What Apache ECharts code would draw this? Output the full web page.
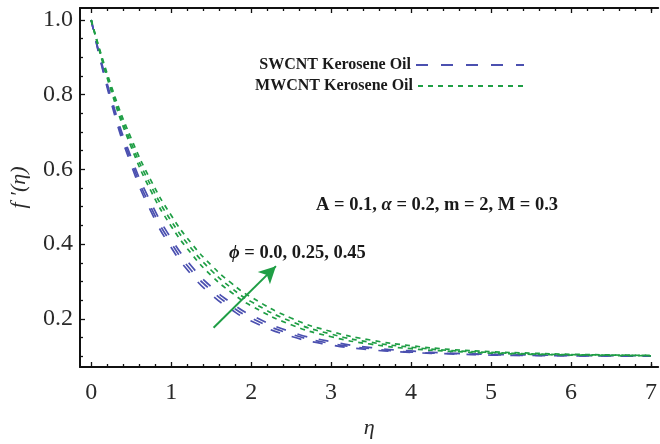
<!DOCTYPE html>
<html>
<head>
<meta charset="utf-8">
<script src="https://cdn.jsdelivr.net/npm/echarts@6/dist/echarts.min.js"></script>
<style>
  html, body { margin: 0; padding: 0; background: #ffffff; }
  #chart { width: 660px; height: 444px; }
</style>
</head>
<body>
<div id="chart"></div>
<script>
// Similarity variable eta and velocity profiles f'(eta) for phi = 0.0, 0.25, 0.45
const eta      = [0, 0.25, 0.5, 0.75, 1, 1.25, 1.5, 1.75, 2, 2.5, 3, 3.5, 4, 4.5, 5, 5.5, 6, 7];
const swcnt00  = [1.0, 0.779, 0.612, 0.486, 0.391, 0.319, 0.265, 0.225, 0.194, 0.153, 0.130, 0.117, 0.110, 0.106, 0.103, 0.102, 0.101, 0.100];
const swcnt25  = [1.0, 0.785, 0.622, 0.497, 0.403, 0.330, 0.276, 0.234, 0.202, 0.159, 0.134, 0.120, 0.111, 0.107, 0.104, 0.102, 0.101, 0.100];
const swcnt45  = [1.0, 0.792, 0.632, 0.510, 0.415, 0.342, 0.286, 0.243, 0.210, 0.165, 0.139, 0.123, 0.114, 0.108, 0.105, 0.103, 0.102, 0.101];
const mwcnt00  = [1.0, 0.810, 0.660, 0.541, 0.448, 0.375, 0.316, 0.271, 0.235, 0.184, 0.152, 0.132, 0.120, 0.113, 0.108, 0.105, 0.103, 0.101];
const mwcnt25  = [1.0, 0.817, 0.671, 0.555, 0.462, 0.389, 0.330, 0.283, 0.246, 0.193, 0.159, 0.137, 0.124, 0.115, 0.110, 0.106, 0.104, 0.102];
const mwcnt45  = [1.0, 0.824, 0.683, 0.569, 0.477, 0.403, 0.344, 0.296, 0.258, 0.202, 0.166, 0.143, 0.128, 0.118, 0.112, 0.108, 0.105, 0.102];

// Axis ticks
const xMajor = [0, 1, 2, 3, 4, 5, 6, 7];
const xMinor = [0.2, 0.4, 0.6, 0.8, 1.2, 1.4, 1.6, 1.8, 2.2, 2.4, 2.6, 2.8, 3.2, 3.4, 3.6, 3.8,
                4.2, 4.4, 4.6, 4.8, 5.2, 5.4, 5.6, 5.8, 6.2, 6.4, 6.6, 6.8, 7.0];
const yMajor = [0.2, 0.4, 0.6, 0.8, 1.0];
const yMinor = [0.1, 0.15, 0.25, 0.3, 0.35, 0.45, 0.5, 0.55, 0.65, 0.7, 0.75, 0.85, 0.9, 0.95];

// Arrow showing increasing phi (data coordinates)
const arrowFrom = [1.53, 0.176];
const arrowTo   = [2.31, 0.341];

const SW_NAME = 'SWCNT Kerosene Oil';
const MW_NAME = 'MWCNT Kerosene Oil';
const BLUE = '#4b50b0';
const GREEN = '#1f9e45';
const SW_DASH = [10, 12];
const MW_DASH = [5, 5];
const SERIF = '"Liberation Serif", "Times New Roman", serif';
const X_MIN = -0.14, X_MAX = 7.09, Y_MIN = 0.071, Y_MAX = 1.032;

const pairs = ys => eta.map((x, i) => [x, ys[i]]);

function lineSeries(name, ys, color, dash, width) {
  return {
    type: 'line', name, data: pairs(ys), smooth: true, showSymbol: false, symbol: 'none',
    xAxisIndex: 0, yAxisIndex: 0,
    lineStyle: { color, width, type: dash, cap: 'butt' },
    itemStyle: { color },
    emphasis: { disabled: true }, silent: true
  };
}

function xAx(position, ticks, len, line, labels) {
  return {
    type: 'value', position, min: X_MIN, max: X_MAX,
    axisLine: { show: line, onZero: false, lineStyle: { color: '#111', width: 2 } },
    axisTick: { show: true, inside: true, length: len, customValues: ticks, lineStyle: { color: '#111', width: 1.3 } },
    axisLabel: labels ? { show: true, customValues: ticks, margin: 14, fontSize: 24, fontFamily: SERIF, color: '#2a2a2a' } : { show: false },
    splitLine: { show: false }
  };
}

function yAx(ticks, len, line, labels) {
  return {
    type: 'value', position: 'left', min: Y_MIN, max: Y_MAX,
    axisLine: { show: line, onZero: false, lineStyle: { color: '#111', width: 2 } },
    axisTick: { show: true, inside: true, length: len, customValues: ticks, lineStyle: { color: '#111', width: 1.3 } },
    axisLabel: labels ? { show: true, customValues: ticks, margin: 7, fontSize: 24, fontFamily: SERIF, color: '#2a2a2a',
                          formatter: v => v.toFixed(1) } : { show: false },
    splitLine: { show: false }
  };
}

const chart = echarts.init(document.getElementById('chart'), null, { renderer: 'canvas' });

const xAxes = [
  xAx('bottom', xMajor, 5, true, true),
  xAx('bottom', xMinor, 3, false, false),
  xAx('top', xMajor, 5, true, false),
  xAx('top', xMinor, 3, false, false)
];
xAxes[0].name = 'η';
xAxes[0].nameLocation = 'middle';
xAxes[0].nameGap = 50;
xAxes[0].nameTextStyle = { fontSize: 22, fontStyle: 'italic', fontFamily: SERIF, color: '#2a2a2a' };

const yAxes = [yAx(yMajor, 5, true, true), yAx(yMinor, 3, false, false)];
yAxes[0].name = 'f ′(η)';
yAxes[0].nameLocation = 'middle';
yAxes[0].nameRotate = 90;
yAxes[0].nameGap = 50;
yAxes[0].nameTextStyle = { fontSize: 22, fontStyle: 'italic', fontFamily: SERIF, color: '#2a2a2a' };

const sw = [swcnt00, swcnt25, swcnt45].map(ys => lineSeries(SW_NAME, ys, BLUE, SW_DASH, 1.7));
const mw = [mwcnt00, mwcnt25, mwcnt45].map(ys => lineSeries(MW_NAME, ys, GREEN, MW_DASH, 1.7));
mw[2].markLine = {
  silent: true, symbol: ['none', 'arrow'], symbolSize: [13, 17],
  lineStyle: { color: GREEN, width: 2, type: 'solid' },
  label: { show: false },
  data: [[{ coord: arrowFrom }, { coord: arrowTo }]]
};

const boldText = { fontFamily: SERIF, fontWeight: 'bold', fill: '#1a1a1a' };

// Key: label on the left, dashed sample on the right
function keyRow(name, y, color, dash, x0, x1) {
  return [
    { type: 'text', x: x0 - 5, y, silent: true,
      style: Object.assign({ text: name, fontSize: 16, align: 'right', verticalAlign: 'middle' }, boldText) },
    { type: 'line', silent: true, shape: { x1: x0, y1: y, x2: x1, y2: y },
      style: { stroke: color, lineWidth: 2, lineDash: dash } }
  ];
}

chart.setOption({
  animation: false,
  backgroundColor: '#ffffff',
  grid: { left: 80, right: 0, top: 8, bottom: 73, containLabel: false },
  xAxis: xAxes,
  yAxis: yAxes,
  graphic: [].concat(
    keyRow(SW_NAME, 65, BLUE, [12, 13], 416, 524),
    keyRow(MW_NAME, 86, GREEN, [5, 5], 418, 526),
    [
      {
        type: 'text', x: 316, y: 205, silent: true,
        style: {
          text: '{b|A = 0.1, }{i|α}{b| = 0.2, m = 2, M = 0.3}', verticalAlign: 'middle',
          rich: {
            b: Object.assign({ fontSize: 18.5 }, boldText),
            i: Object.assign({ fontSize: 18.5, fontStyle: 'italic' }, boldText)
          }
        }
      },
      {
        type: 'text', x: 229, y: 253, silent: true,
        style: {
          text: '{i|ϕ}{b| = 0.0, 0.25, 0.45}', verticalAlign: 'middle',
          rich: {
            b: Object.assign({ fontSize: 18.5 }, boldText),
            i: Object.assign({ fontSize: 18.5, fontStyle: 'italic' }, boldText)
          }
        }
      }
    ]
  ),
  series: sw.concat(mw)
});
</script>
</body>
</html>
